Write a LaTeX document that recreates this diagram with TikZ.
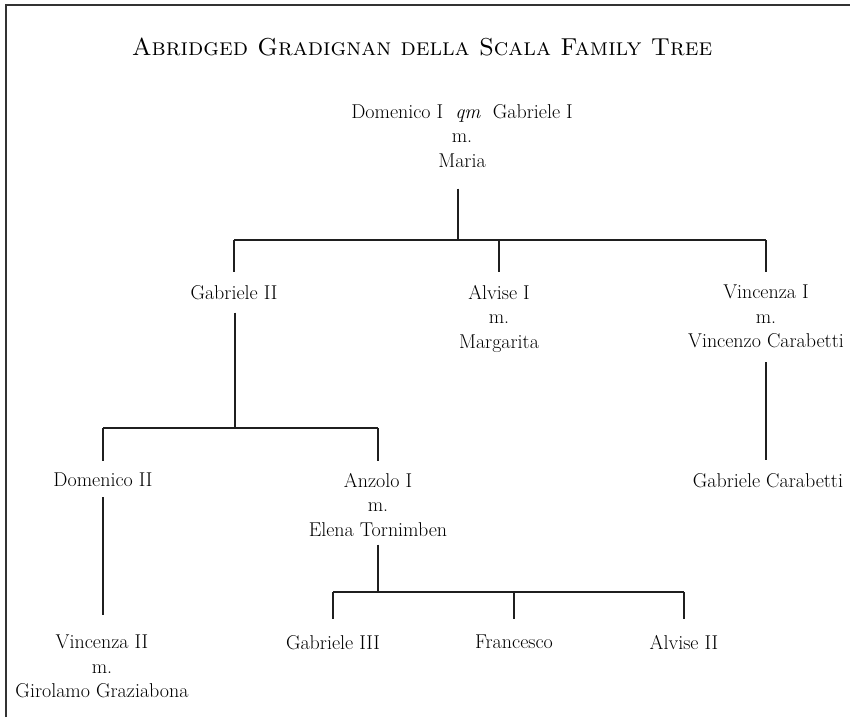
\documentclass[tikz,border=0pt]{standalone}
\begin{document}
\begin{tikzpicture}[x=1pt,y=-1pt,
  person/.style={align=center, inner sep=0pt, anchor=north, font=\fontsize{20}{24.5}\selectfont, text=black},
  link/.style={line width=1.8pt, draw=black!88},
  frame/.style={line width=2pt, draw=black!80}]
\useasboundingbox (0,0) rectangle (850,717);
\draw[frame] (6,717) -- (6,5) -- (850,5);
\node[anchor=base, font=\fontsize{24.5}{30}\selectfont\scshape, text=black] (title) at (422,56) {Abridged Gradignan della Scala Family Tree};
% people
\node[person] (top) at (462,104) {Domenico I \ \textit{qm} \ Gabriele I\\m.\\Maria};
\node[person] (g2) at (234,285) {Gabriele II};
\node[person] (a1) at (499,285) {Alvise I\\m.\\Margarita};
\node[person] (v1) at (766,285) {Vincenza I\\m.\\Vincenzo Carabetti};
\node[person] (d2) at (103,473) {Domenico II};
\node[person] (an) at (378,473) {Anzolo I\\m.\\Elena Tornimben};
\node[person] (gc) at (768,473) {Gabriele Carabetti};
\node[person] (v2) at (102,635) {Vincenza II\\m.\\Girolamo Graziabona};
\node[person] (g3) at (333,635) {Gabriele III};
\node[person] (fr) at (514,635) {Francesco};
\node[person] (al) at (684,635) {Alvise II};
% junctions
\coordinate (j1) at (458,240);
\coordinate (j2) at (235,428);
\coordinate (j3) at (378,592);
% generation 1
\draw[link] ([yshift=-21pt]top.south -| j1) -- (j1);
\draw[link] (g2.north |- j1) -- (v1.north |- j1);
\draw[link] (g2.north |- j1) -- ([yshift=13pt]g2.north);
\draw[link] (a1.north |- j1) -- ([yshift=13pt]a1.north);
\draw[link] (v1.north |- j1) -- ([yshift=13pt]v1.north);
% generation 2
\draw[link] ([yshift=-13pt]g2.south -| j2) -- (j2);
\draw[link] (d2.north |- j2) -- (an.north |- j2);
\draw[link] (d2.north |- j2) -- ([yshift=12pt]d2.north);
\draw[link] (an.north |- j2) -- ([yshift=12pt]an.north);
\draw[link] ([yshift=-14pt]v1.south) -- ([yshift=13pt]gc.north -| v1.south);
% generation 3
\draw[link] ([yshift=-10pt]d2.south) -- ([yshift=20pt]v2.north -| d2.south);
\draw[link] ([yshift=-8pt]an.south -| j3) -- (j3);
\draw[link] (g3.north |- j3) -- (al.north |- j3);
\draw[link] (g3.north |- j3) -- ([yshift=16pt]g3.north);
\draw[link] (fr.north |- j3) -- ([yshift=16pt]fr.north);
\draw[link] (al.north |- j3) -- ([yshift=16pt]al.north);
\end{tikzpicture}
\end{document}
